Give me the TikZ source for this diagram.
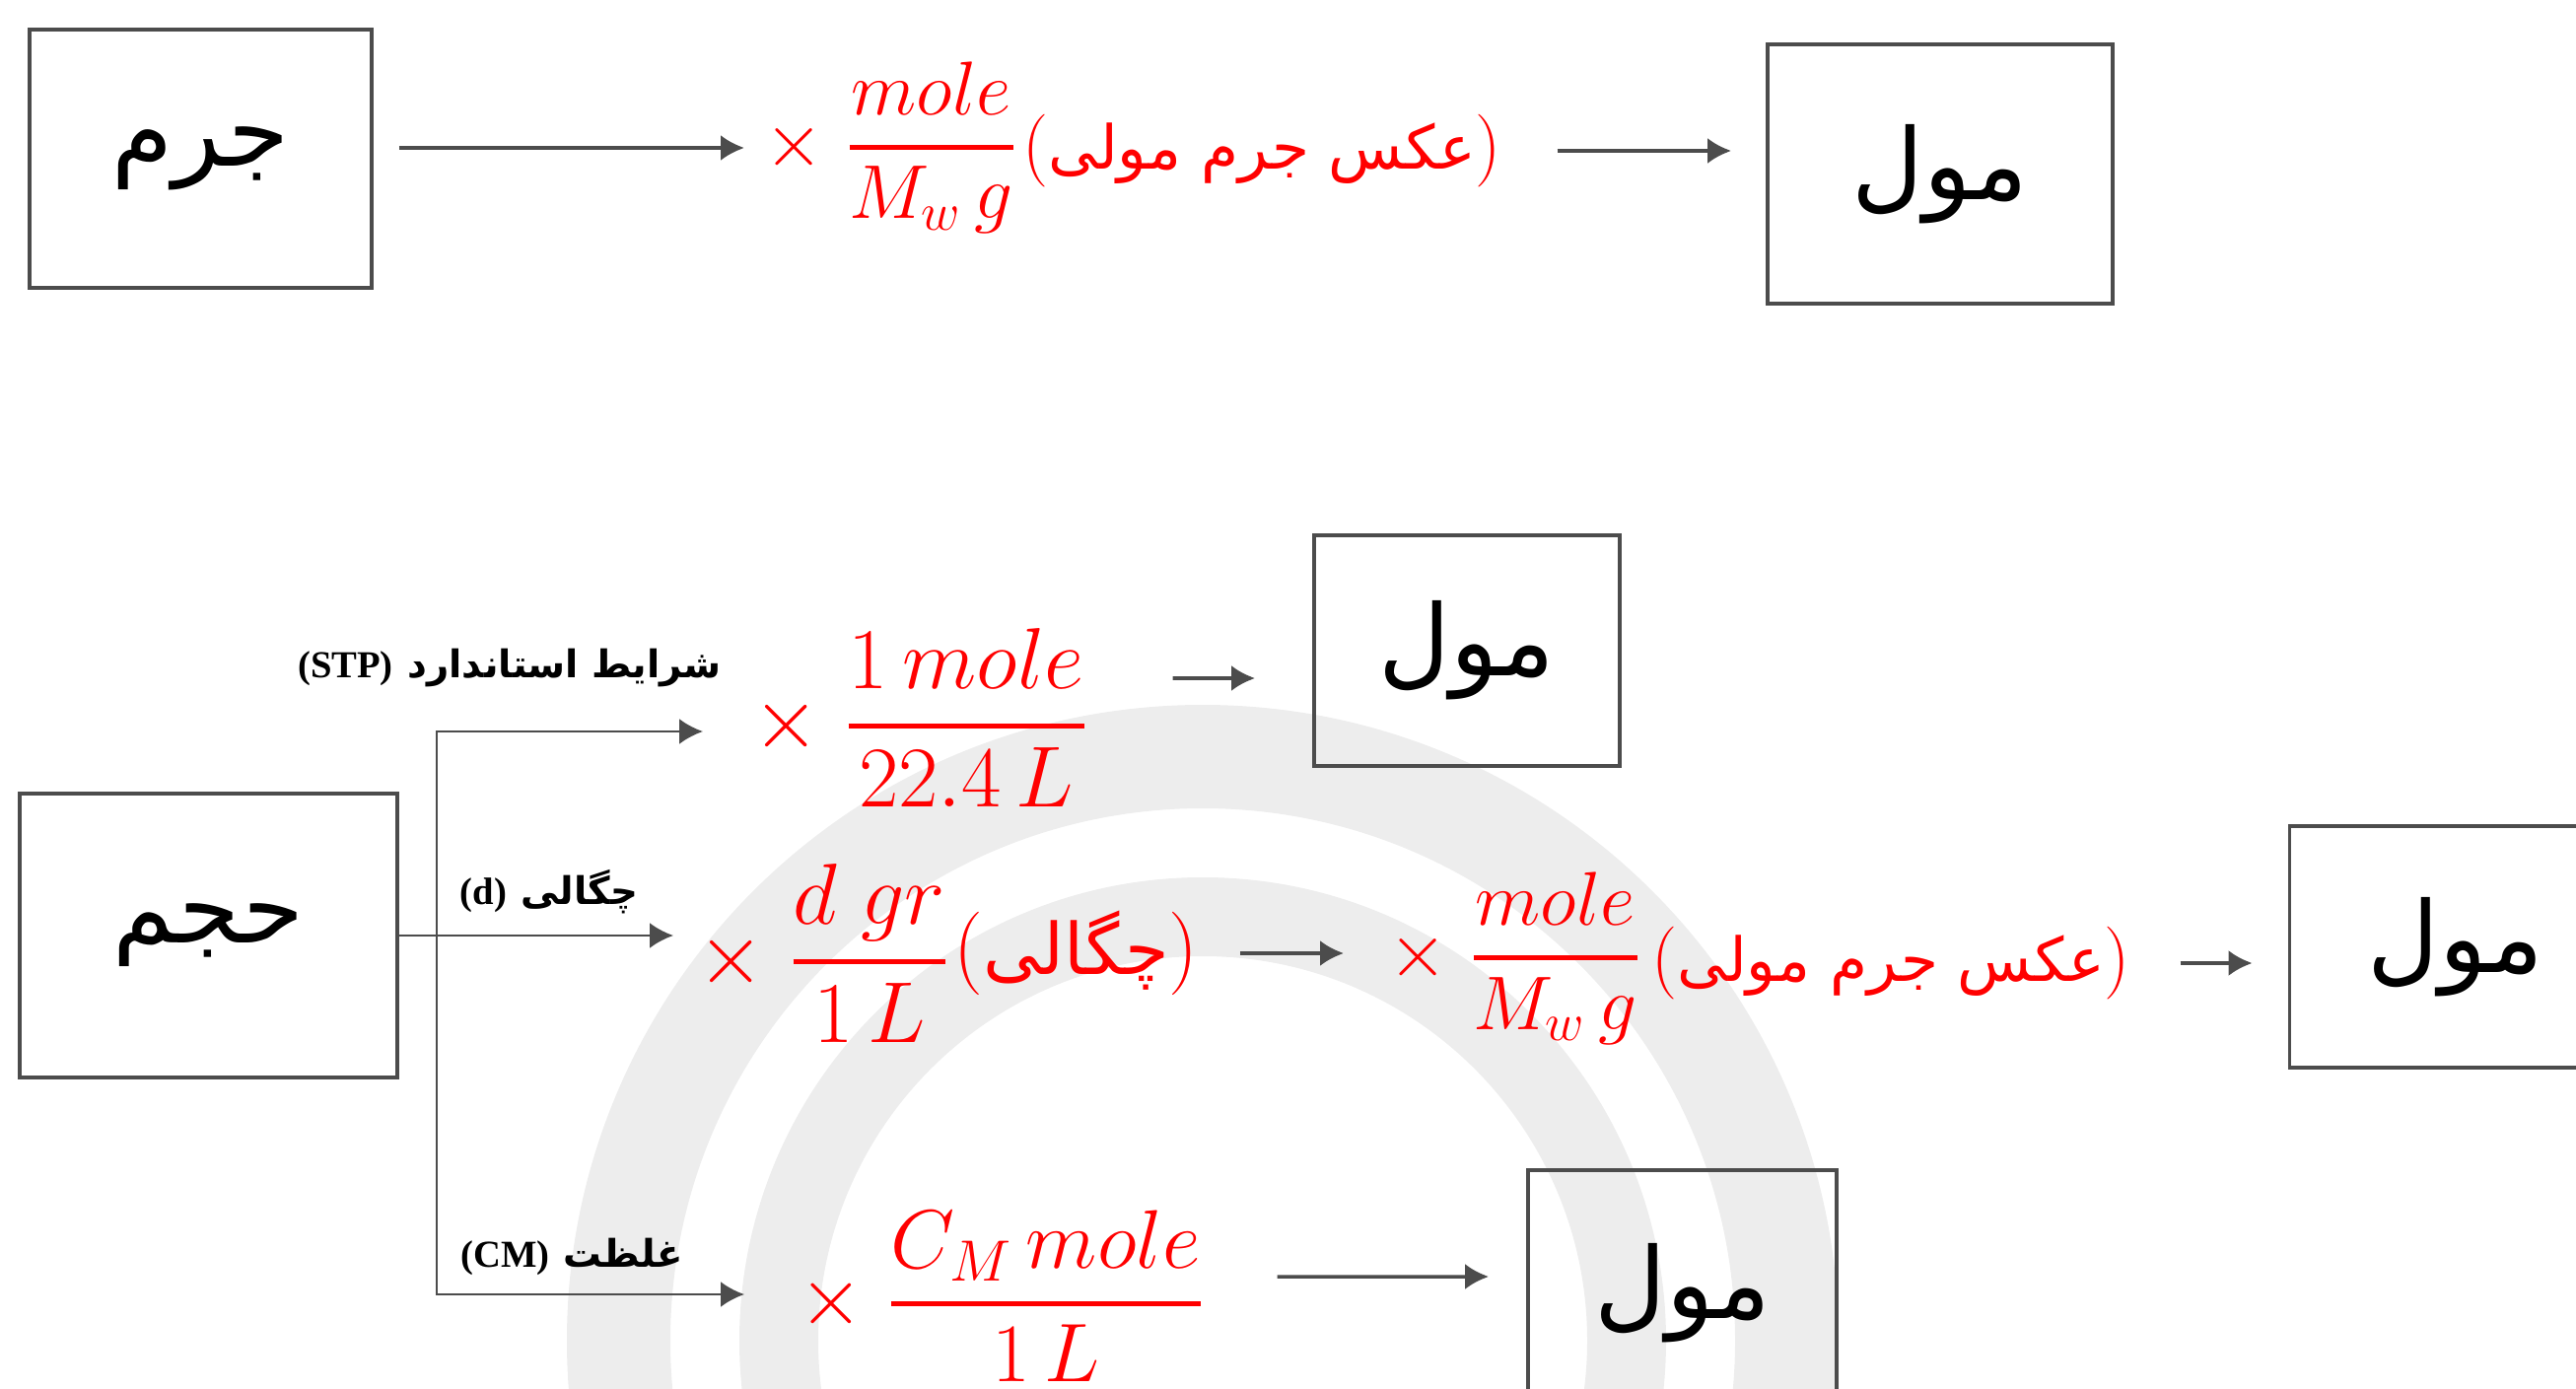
\RequirePackage{fix-cm}
\documentclass[tikz,border=0pt]{standalone}
\usepackage{amsmath}
\usepackage{fontspec}
\newfontfamily\arabicfont[Script=Arabic]{DejaVu Sans}
\newfontfamily\latinserif{Liberation Serif}
\TeXXeTstate=1
\usetikzlibrary{arrows.meta}
\newcommand{\rfrac}[2]{\genfrac{}{}{1.4pt}{0}{#1}{#2}}
\newcommand{\parfa}[2][17.5]{({\arabicfont\fontsize{#1}{#1}\selectfont\beginR #2\endR})}

\begin{document}
\begin{tikzpicture}[
		box/.style={draw=black!70, line width=1.1pt, inner sep=0pt, font=\arabicfont\fontsize{28.5}{34}\selectfont},
		arr/.style={draw=black!70, line width=1pt, -{Latex[length=2.4mm,width=2.6mm]}},
		branch/.style={draw=black!70, line width=0.8pt, -{Latex[length=2.4mm,width=2.6mm]}},
		frm/.style={text=red, inner sep=0pt, anchor=west},
		lbl/.style={inner sep=0pt, font=\fontsize{11}{13}\selectfont\bfseries},
	]
		\useasboundingbox (0,0) rectangle (26.13,14.08);
		\fill[black!7, even odd rule] (12.2,0.48) circle (6.45) circle (5.4);
		\fill[black!7, even odd rule] (12.2,0.48) circle (4.7) circle (3.9);

		\node[box, minimum width=3.47cm, minimum height=2.62cm] (jerm) at (2.035,12.47) {\beginR جرم\endR};
		\node[frm, font=\fontsize{22}{26}\selectfont] (f1) at (7.75,12.58) {$\times\;\rfrac{mole}{M_w\,g}$};
		\node[frm, font=\fontsize{21}{25}\selectfont] (p1) at (10.37,12.55) {\parfa{عکس جرم مولی}};
		\node[box, minimum width=3.5cm, minimum height=2.63cm] (mol1) at (19.68,12.315) {\beginR مول\endR};

		\node[box, minimum width=3.83cm, minimum height=2.88cm] (hajm) at (2.115,4.59) {\beginR حجم\endR};
		\coordinate (split) at (4.43,4.59);
		\node[lbl] (lstp) at (5.17,7.30) {\beginR{\arabicfont شرایط استاندارد} \beginL{\latinserif(STP)}\endL\endR};
		\node[lbl] (ld) at (5.57,5.03) {\beginR{\arabicfont چگالی} \beginL{\latinserif(d)}\endL\endR};
		\node[lbl] (lcm) at (5.80,1.33) {\beginR{\arabicfont غلظت} \beginL{\latinserif(CM)}\endL\endR};

		\node[frm, font=\fontsize{25}{30}\selectfont] (f2) at (7.63,6.80) {$\times\;\rfrac{1\,mole}{22.4\,L}$};
		\node[box, minimum width=3.1cm, minimum height=2.34cm] (mol2) at (14.88,7.48) {\beginR مول\endR};

		\node[frm, font=\fontsize{25}{30}\selectfont] (f3) at (7.07,4.41) {$\times\;\rfrac{d\;gr}{1\,L}$};
		\node[frm, font=\fontsize{24}{28}\selectfont] (p3) at (9.67,4.41) {\parfa[20.5]{چگالی}};
		\node[frm, font=\fontsize{22}{26}\selectfont] (f4) at (14.08,4.36) {$\times\;\rfrac{mole}{M_w\,g}$};
		\node[frm, font=\fontsize{21}{25}\selectfont] (p4) at (16.75,4.31) {\parfa{عکس جرم مولی}};
		\node[box, minimum width=3.37cm, minimum height=2.45cm] (mol3) at (24.91,4.475) {\beginR مول\endR};

		\node[frm, font=\fontsize{24}{29}\selectfont] (f5) at (8.10,0.93) {$\times\;\rfrac{C_M\,mole}{1\,L}$};
		\node[box, minimum width=3.13cm, minimum height=2.5cm] (mol4) at (17.065,0.96) {\beginR مول\endR};

		\draw[arr, shorten <=2.6mm, shorten >=2mm] (jerm.east |- f1.west) -- (f1.west);
		\draw[arr, shorten <=5.6mm, shorten >=3.5mm] (p1.east) -- (p1.east -| mol1.west);

		\draw[branch, shorten >=2.4mm] (hajm.east) -- (hajm.east -| f3.west);
		\draw[branch, shorten >=5mm] (split) |- ([yshift=-1.4mm]f2.west);
		\draw[branch, shorten >=5.5mm] (split) |- ([yshift=0.2mm]f5.west);

		\draw[arr, shorten <=8.5mm, shorten >=5.8mm] ([yshift=4mm]f2.east) -- ([yshift=-2.8mm]mol2.west);
		\draw[arr, shorten <=4.2mm, shorten >=4.5mm] (p3.east) -- (p3.east -| f4.west);
		\draw[arr, shorten <=5mm, shorten >=3.6mm] (p4.east) -- (p4.east -| mol3.west);
		\draw[arr, shorten <=7.3mm, shorten >=3.8mm] ([yshift=2mm]f5.east) -- ([yshift=1.7mm]mol4.west);
	\end{tikzpicture}
\end{document}
